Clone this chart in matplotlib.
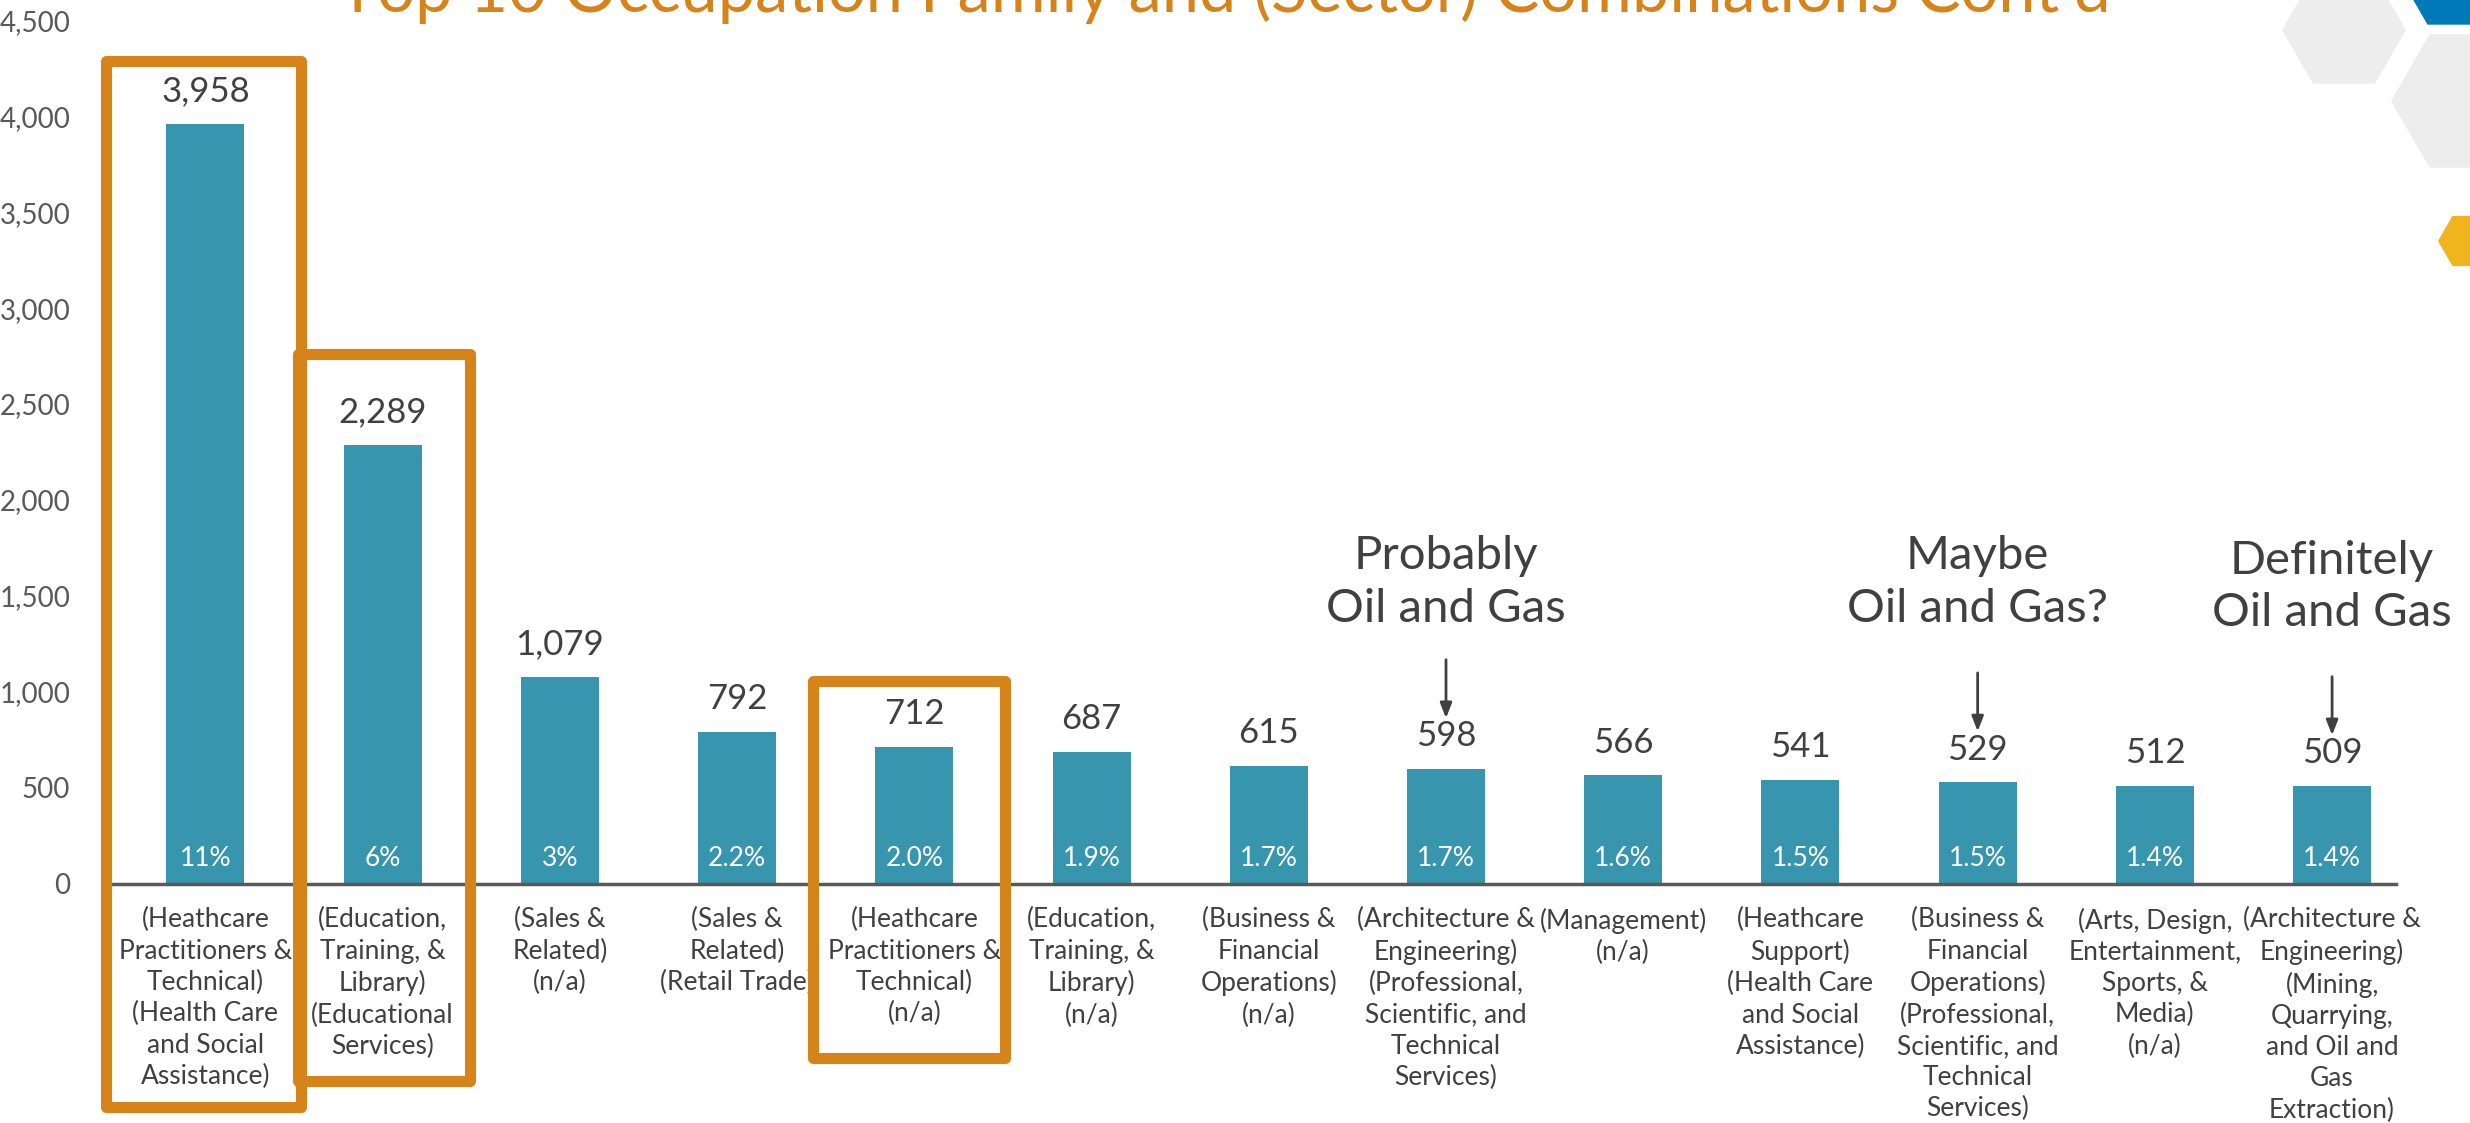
import numpy as np
import matplotlib
matplotlib.use('Agg')
import matplotlib.pyplot as plt
from matplotlib.patches import Rectangle, RegularPolygon
from matplotlib.transforms import IdentityTransform
from matplotlib.ticker import FuncFormatter

plt.rcParams['font.family'] = ['Lato', 'DejaVu Sans']

# data
counts = [3958, 2289, 1079, 792, 712, 687, 615, 598, 566, 541, 529, 512, 509]
shares = ['11%', '6%', '3%', '2.2%', '2.0%', '1.9%', '1.7%', '1.7%',
          '1.6%', '1.5%', '1.5%', '1.4%', '1.4%']
categories = [
    "(Heathcare\nPractitioners &\nTechnical)\n(Health Care\nand Social\nAssistance)",
    "(Education,\nTraining, &\nLibrary)\n(Educational\nServices)",
    "(Sales &\nRelated)\n(n/a)",
    "(Sales &\nRelated)\n(Retail Trade)",
    "(Heathcare\nPractitioners &\nTechnical)\n(n/a)",
    "(Education,\nTraining, &\nLibrary)\n(n/a)",
    "(Business &\nFinancial\nOperations)\n(n/a)",
    "(Architecture &\nEngineering)\n(Professional,\nScientific, and\nTechnical\nServices)",
    "(Management)\n(n/a)",
    "(Heathcare\nSupport)\n(Health Care\nand Social\nAssistance)",
    "(Business &\nFinancial\nOperations)\n(Professional,\nScientific, and\nTechnical\nServices)",
    "(Arts, Design,\nEntertainment,\nSports, &\nMedia)\n(n/a)",
    "(Architecture &\nEngineering)\n(Mining,\nQuarrying,\nand Oil and\nGas\nExtraction)",
]
notes = {7: 'Probably\nOil and Gas', 10: 'Maybe\nOil and Gas?', 12: 'Definitely\nOil and Gas'}
note_y = {7: 1570, 10: 1570, 12: 1545}
title = "Top 10 Occupation Family and (Sector) Combinations Cont\u2019d"

teal = '#3795AE'
orange = '#D6841A'
dark = '#404040'
grey = '#595959'

fig = plt.figure(figsize=(24.7, 11.23), dpi=100)
fig.patch.set_facecolor('white')

# decorative hexagons, top right corner (pixel coords)
for cx, cy, r, c in [(2344, 1093, 62, '#EDEDED'), (2468, 1022, 77, '#EDEDED'),
                     (2466, 1165, 77, '#0079B8'), (2467, 882, 29, '#F0B41E')]:
    fig.add_artist(RegularPolygon((cx, cy), 6, radius=r, orientation=np.pi / 6,
                                  facecolor=c, edgecolor='none',
                                  transform=IdentityTransform()))

fig.text(0.4957, 1 - 12 / 1123, title, ha='center', va='baseline',
         fontsize=48, color=orange)

ax = fig.add_axes([0.043, 0.213, 0.927, 0.769])
x = np.arange(len(counts))
bars = ax.bar(x, counts, width=0.44, color=teal, zorder=2)
ax.set_xlim(-0.56, 12.36)
ax.set_ylim(0, 4500)
ax.set_yticks(range(0, 4501, 500))
ax.yaxis.set_major_formatter(FuncFormatter(lambda v, p: f'{int(v):,}'))
ax.set_xticks(x, categories, fontsize=19, linespacing=1.31, color=dark)
ax.tick_params(axis='x', length=0, pad=17)
ax.tick_params(axis='y', length=0, pad=26, labelsize=20, labelcolor=grey)
for s in ['top', 'right', 'left']:
    ax.spines[s].set_visible(False)
ax.spines['bottom'].set_color(grey)
ax.spines['bottom'].set_linewidth(2.5)

ax.bar_label(bars, labels=[f'{v:,}' for v in counts], padding=12,
             fontsize=25, color=dark)
for i, s in enumerate(shares):
    ax.text(i, 130, s, ha='center', va='center', color='white', fontsize=19, zorder=3)

for i, txt in notes.items():
    ax.text(i, note_y[i], txt, ha='center', va='center', fontsize=34,
            color=dark, linespacing=1.3)
    ax.annotate('', xy=(i, counts[i] + 265), xytext=(i, counts[i] + 570),
                arrowprops=dict(arrowstyle='-|>,head_width=0.35,head_length=0.9',
                                color=dark, lw=2, shrinkA=0, shrinkB=0))

# orange highlight boxes around the health care / education groups
boxes = [(-0.56, 0.54, 4290, -1165), (0.52, 1.49, 2760, -1025), (3.43, 4.51, 1057, -910)]
for x0, x1, top, bot in boxes:
    ax.add_patch(Rectangle((x0, bot), x1 - x0, top - bot, fill=False,
                           edgecolor=orange, lw=8, joinstyle='round',
                           clip_on=False, zorder=4))

fig.savefig('out.png', dpi=100)
